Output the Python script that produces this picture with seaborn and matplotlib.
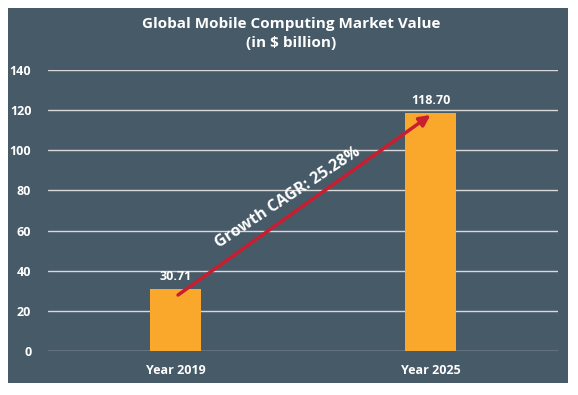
import pandas as pd
import matplotlib.pyplot as plt
import seaborn as sns
from matplotlib.patches import Rectangle

years = ['Year 2019', 'Year 2025']
values = [30.71, 118.70]
value_labels = ['30.71', '118.70']
yticks = [0, 20, 40, 60, 80, 100, 120, 140]

panel_color = '#475a68'
bar_color = '#f9a82c'
arrow_color = '#c71f2f'

sns.set_theme(style='white')
plt.rcParams['font.family'] = ['Open Sans', 'DejaVu Sans']

fig = plt.figure(figsize=(5.78, 3.95), dpi=100)
fig.patch.set_facecolor('white')
fig.patches.append(Rectangle((8 / 578, 12 / 395), 560 / 578, 375 / 395,
                             transform=fig.transFigure, facecolor=panel_color,
                             edgecolor='none', zorder=-10))

ax = fig.add_axes([48 / 578, 44 / 395, 510 / 578, 281 / 395])
ax.set_facecolor('none')

df = pd.DataFrame({'year': years, 'value': values})
sns.barplot(data=df, x='year', y='value', color=bar_color, width=0.2,
            saturation=1, linewidth=0, ax=ax, zorder=3)

ax.set_xlim(-0.5, 1.5)
ax.set_ylim(0, 140)
ax.set_yticks(yticks)
ax.yaxis.grid(True, color='#d9d9d9', linewidth=1)
ax.set_axisbelow(True)
for s in ax.spines.values():
    s.set_visible(False)
ax.set_xlabel('')
ax.set_ylabel('')
ax.tick_params(axis='y', length=0, pad=12, labelsize=9, labelcolor='white')
ax.tick_params(axis='x', length=0, pad=9, labelsize=9, labelcolor='white')
for lbl in ax.get_xticklabels() + ax.get_yticklabels():
    lbl.set_fontweight('bold')

for i, (v, t) in enumerate(zip(values, value_labels)):
    ax.text(i, v + 3, t, ha='center', va='bottom', color='white',
            fontsize=9, fontweight='bold')

ax.annotate('', xy=(1.0, 117.6), xytext=(0.01, 27.9),
            arrowprops=dict(arrowstyle='-|>', color=arrow_color, lw=2.5,
                            mutation_scale=16, shrinkA=0, shrinkB=0),
            zorder=5)
ax.text(0.44, 76.5, 'Growth CAGR: 25.28%', rotation=33.5, ha='center',
        va='center', color='white', fontsize=11.5, fontweight='bold',
        rotation_mode='anchor', zorder=6)

fig.text(0.503, 0.915, 'Global Mobile Computing Market Value\n(in $ billion)',
         ha='center', va='center', color='white', fontsize=11,
         fontweight='bold', linespacing=1.4)

fig.savefig('out.png', dpi=100, facecolor=fig.get_facecolor())
